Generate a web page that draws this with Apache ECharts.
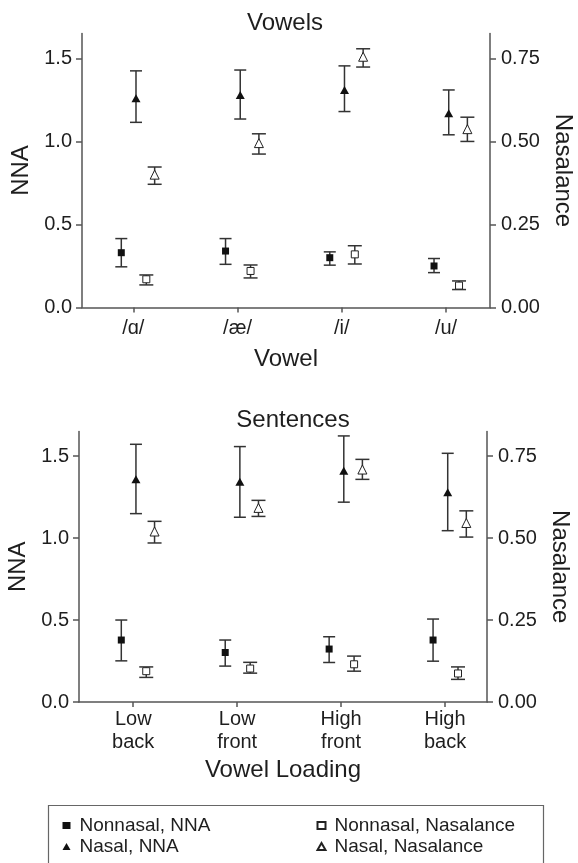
<!DOCTYPE html>
<html>
<head>
<meta charset="utf-8">
<script src="https://cdn.jsdelivr.net/npm/echarts@6/dist/echarts.min.js"></script>
<style>
html, body { margin: 0; padding: 0; background: #fff; }
#chart { width: 578px; height: 863px; }
</style>
</head>
<body>
<div id="chart"></div>
<script>
// categories and tick labels
const vowelLabels = ['/ɑ/', '/æ/', '/i/', '/u/']
const loadingLabels = ['Low\nback', 'Low\nfront', 'High\nfront', 'High\nback']
const nnaTicks = [0, 0.5, 1.0, 1.5]
const nasalanceTicks = [0, 0.25, 0.5, 0.75]

// Vowels panel (mean, lower, upper)
const vowelNonnasalNNA = [0.33, 0.34, 0.30, 0.25]
const vowelNonnasalNNALo = [0.245, 0.26, 0.255, 0.21]
const vowelNonnasalNNAHi = [0.415, 0.415, 0.335, 0.295]
const vowelNasalNNA = [1.26, 1.28, 1.31, 1.17]
const vowelNasalNNALo = [1.115, 1.135, 1.18, 1.04]
const vowelNasalNNAHi = [1.425, 1.43, 1.455, 1.31]
const vowelNonnasalNas = [0.085, 0.11, 0.16, 0.066]
const vowelNonnasalNasLo = [0.068, 0.089, 0.131, 0.054]
const vowelNonnasalNasHi = [0.098, 0.128, 0.186, 0.080]
const vowelNasalNas = [0.40, 0.495, 0.755, 0.537]
const vowelNasalNasLo = [0.371, 0.462, 0.724, 0.50]
const vowelNasalNasHi = [0.423, 0.523, 0.779, 0.573]

// Sentences panel (mean, lower, upper)
const sentNonnasalNNA = [0.378, 0.302, 0.323, 0.378]
const sentNonnasalNNALo = [0.251, 0.219, 0.241, 0.249]
const sentNonnasalNNAHi = [0.50, 0.378, 0.398, 0.506]
const sentNasalNNA = [1.358, 1.343, 1.41, 1.28]
const sentNasalNNALo = [1.149, 1.127, 1.219, 1.045]
const sentNasalNNAHi = [1.572, 1.558, 1.623, 1.517]
const sentNonnasalNas = [0.094, 0.102, 0.115, 0.087]
const sentNonnasalNasLo = [0.075, 0.088, 0.094, 0.069]
const sentNonnasalNasHi = [0.107, 0.121, 0.140, 0.107]
const sentNasalNas = [0.520, 0.592, 0.709, 0.546]
const sentNasalNasLo = [0.485, 0.566, 0.679, 0.503]
const sentNasalNasHi = [0.551, 0.615, 0.740, 0.583]

const FONT = "'Liberation Sans', Arial, Helvetica, sans-serif"
const TEXT = '#1e1e1e'
const AXIS = '#555'

// look of the four groups (side-by-side dodge in x units)
const groupStyle = {
  'Nonnasal, NNA': { symbol: 'rect', size: [7, 7], fill: '#111', dodge: -0.115, cap: 6, right: false },
  'Nasal, NNA': { symbol: 'triangle', size: [9, 8], fill: '#111', dodge: 0.026, cap: 6, right: false },
  'Nonnasal, Nasalance': { symbol: 'rect', size: [7, 7], fill: '#fff', dodge: 0.125, cap: 7, right: true },
  'Nasal, Nasalance': { symbol: 'triangle', size: [9, 9], fill: '#fff', dodge: 0.205, cap: 7, right: true }
}

function errorBar(cap) {
  return function (params, api) {
    const x = api.value(0)
    const top = api.coord([x, api.value(2)])
    const bot = api.coord([x, api.value(1)])
    const style = { stroke: '#333', lineWidth: 1.5, fill: null }
    return {
      type: 'group',
      children: [
        { type: 'line', shape: { x1: top[0], y1: top[1], x2: bot[0], y2: bot[1] }, style },
        { type: 'line', shape: { x1: top[0] - cap, y1: top[1], x2: top[0] + cap, y2: top[1] }, style },
        { type: 'line', shape: { x1: bot[0] - cap, y1: bot[1], x2: bot[0] + cap, y2: bot[1] }, style }
      ]
    }
  }
}

function groupSeries(panel, name, mean, lo, hi) {
  const s = groupStyle[name]
  const xIdx = panel
  const yIdx = panel * 2 + (s.right ? 1 : 0)
  return [
    {
      type: 'custom',
      name: name + ' err',
      xAxisIndex: xIdx,
      yAxisIndex: yIdx,
      renderItem: errorBar(s.cap),
      data: mean.map((m, i) => [i + 1 + s.dodge, lo[i], hi[i]]),
      z: 2,
      silent: true
    },
    {
      type: 'scatter',
      name,
      xAxisIndex: xIdx,
      yAxisIndex: yIdx,
      symbol: s.symbol,
      symbolSize: s.size,
      itemStyle: { color: s.fill, borderColor: '#222', borderWidth: s.fill === '#fff' ? 1 : 0, opacity: 1 },
      data: mean.map((m, i) => [i + 1 + s.dodge, m]),
      z: 3
    }
  ]
}

function xAxis(grid, labels, min, max, name, nameGap, margin) {
  return {
    gridIndex: grid,
    type: 'value',
    min,
    max,
    name,
    nameLocation: 'middle',
    nameGap,
    nameTextStyle: { fontFamily: FONT, fontSize: 24, color: TEXT },
    axisLine: { show: true, onZero: false, lineStyle: { color: AXIS, width: 1.5 } },
    axisTick: { show: true, inside: false, length: 5, customValues: [1, 2, 3, 4], lineStyle: { color: AXIS, width: 1.5 } },
    axisLabel: {
      customValues: [1, 2, 3, 4],
      formatter: (v) => labels[Math.round(v) - 1],
      fontFamily: FONT, fontSize: 20, color: TEXT, lineHeight: 23, margin
    },
    splitLine: { show: false }
  }
}

function yAxis(grid, right, max, ticks, digits, name) {
  return {
    gridIndex: grid,
    type: 'value',
    position: right ? 'right' : 'left',
    min: 0,
    max,
    name,
    nameLocation: 'middle',
    nameRotate: right ? -90 : 90,
    nameGap: right ? 61 : 42,
    nameTextStyle: { fontFamily: FONT, fontSize: 24, color: TEXT },
    axisLine: { show: true, lineStyle: { color: AXIS, width: 1.5 } },
    axisTick: { show: true, inside: false, length: 6, customValues: ticks, lineStyle: { color: AXIS, width: 1.5 } },
    axisLabel: {
      customValues: ticks,
      formatter: (v) => v.toFixed(digits),
      fontFamily: FONT, fontSize: 20, color: TEXT, margin: right ? 11 : 10
    },
    splitLine: { show: false }
  }
}

const chart = echarts.init(document.getElementById('chart'), null, { renderer: 'canvas' })

const legendText = { fontFamily: FONT, fontSize: 19, color: TEXT, lineHeight: 21, padding: [0, 0, 0, 4] }

chart.setOption({
  animation: false,
  backgroundColor: '#fff',
  grid: [
    { left: 82, top: 33.5, width: 408, height: 274, outerBoundsMode: 'none' },
    { left: 79, top: 431.5, width: 408, height: 270.5, outerBoundsMode: 'none' }
  ],
  xAxis: [
    xAxis(0, vowelLabels, 0.508, 4.422, 'Vowel', 40, 9),
    xAxis(1, loadingLabels, 0.478, 4.404, 'Vowel Loading', 56, 6)
  ],
  yAxis: [
    yAxis(0, false, 1.65, nnaTicks, 1, 'NNA'),
    yAxis(0, true, 0.825, nasalanceTicks, 2, 'Nasalance'),
    yAxis(1, false, 1.65, nnaTicks, 1, 'NNA'),
    yAxis(1, true, 0.825, nasalanceTicks, 2, 'Nasalance')
  ],
  legend: [
    {
      left: 62.5, top: 815, orient: 'vertical', padding: 0, itemGap: 0,
      itemWidth: 8, itemHeight: 7, selectedMode: false,
      data: ['Nonnasal, NNA', 'Nasal, NNA'], textStyle: legendText
    },
    {
      left: 316.5, top: 815, orient: 'vertical', padding: 0, itemGap: 0,
      itemWidth: 8, itemHeight: 7, selectedMode: false,
      data: ['Nonnasal, Nasalance', 'Nasal, Nasalance'], textStyle: legendText
    }
  ],
  graphic: [
    { type: 'text', x: 285, y: 23, style: { text: 'Vowels', font: '24px ' + FONT, fill: TEXT, textAlign: 'center', textVerticalAlign: 'middle' } },
    { type: 'text', x: 293, y: 420, style: { text: 'Sentences', font: '24px ' + FONT, fill: TEXT, textAlign: 'center', textVerticalAlign: 'middle' } },
    { type: 'rect', shape: { x: 48.5, y: 805.5, width: 495, height: 80 }, style: { fill: 'none', stroke: '#666', lineWidth: 1.2 }, z: -1 }
  ],
  series: [
    ...groupSeries(0, 'Nonnasal, NNA', vowelNonnasalNNA, vowelNonnasalNNALo, vowelNonnasalNNAHi),
    ...groupSeries(0, 'Nasal, NNA', vowelNasalNNA, vowelNasalNNALo, vowelNasalNNAHi),
    ...groupSeries(0, 'Nonnasal, Nasalance', vowelNonnasalNas, vowelNonnasalNasLo, vowelNonnasalNasHi),
    ...groupSeries(0, 'Nasal, Nasalance', vowelNasalNas, vowelNasalNasLo, vowelNasalNasHi),
    ...groupSeries(1, 'Nonnasal, NNA', sentNonnasalNNA, sentNonnasalNNALo, sentNonnasalNNAHi),
    ...groupSeries(1, 'Nasal, NNA', sentNasalNNA, sentNasalNNALo, sentNasalNNAHi),
    ...groupSeries(1, 'Nonnasal, Nasalance', sentNonnasalNas, sentNonnasalNasLo, sentNonnasalNasHi),
    ...groupSeries(1, 'Nasal, Nasalance', sentNasalNas, sentNasalNasLo, sentNasalNasHi)
  ]
})
</script>
</body>
</html>
